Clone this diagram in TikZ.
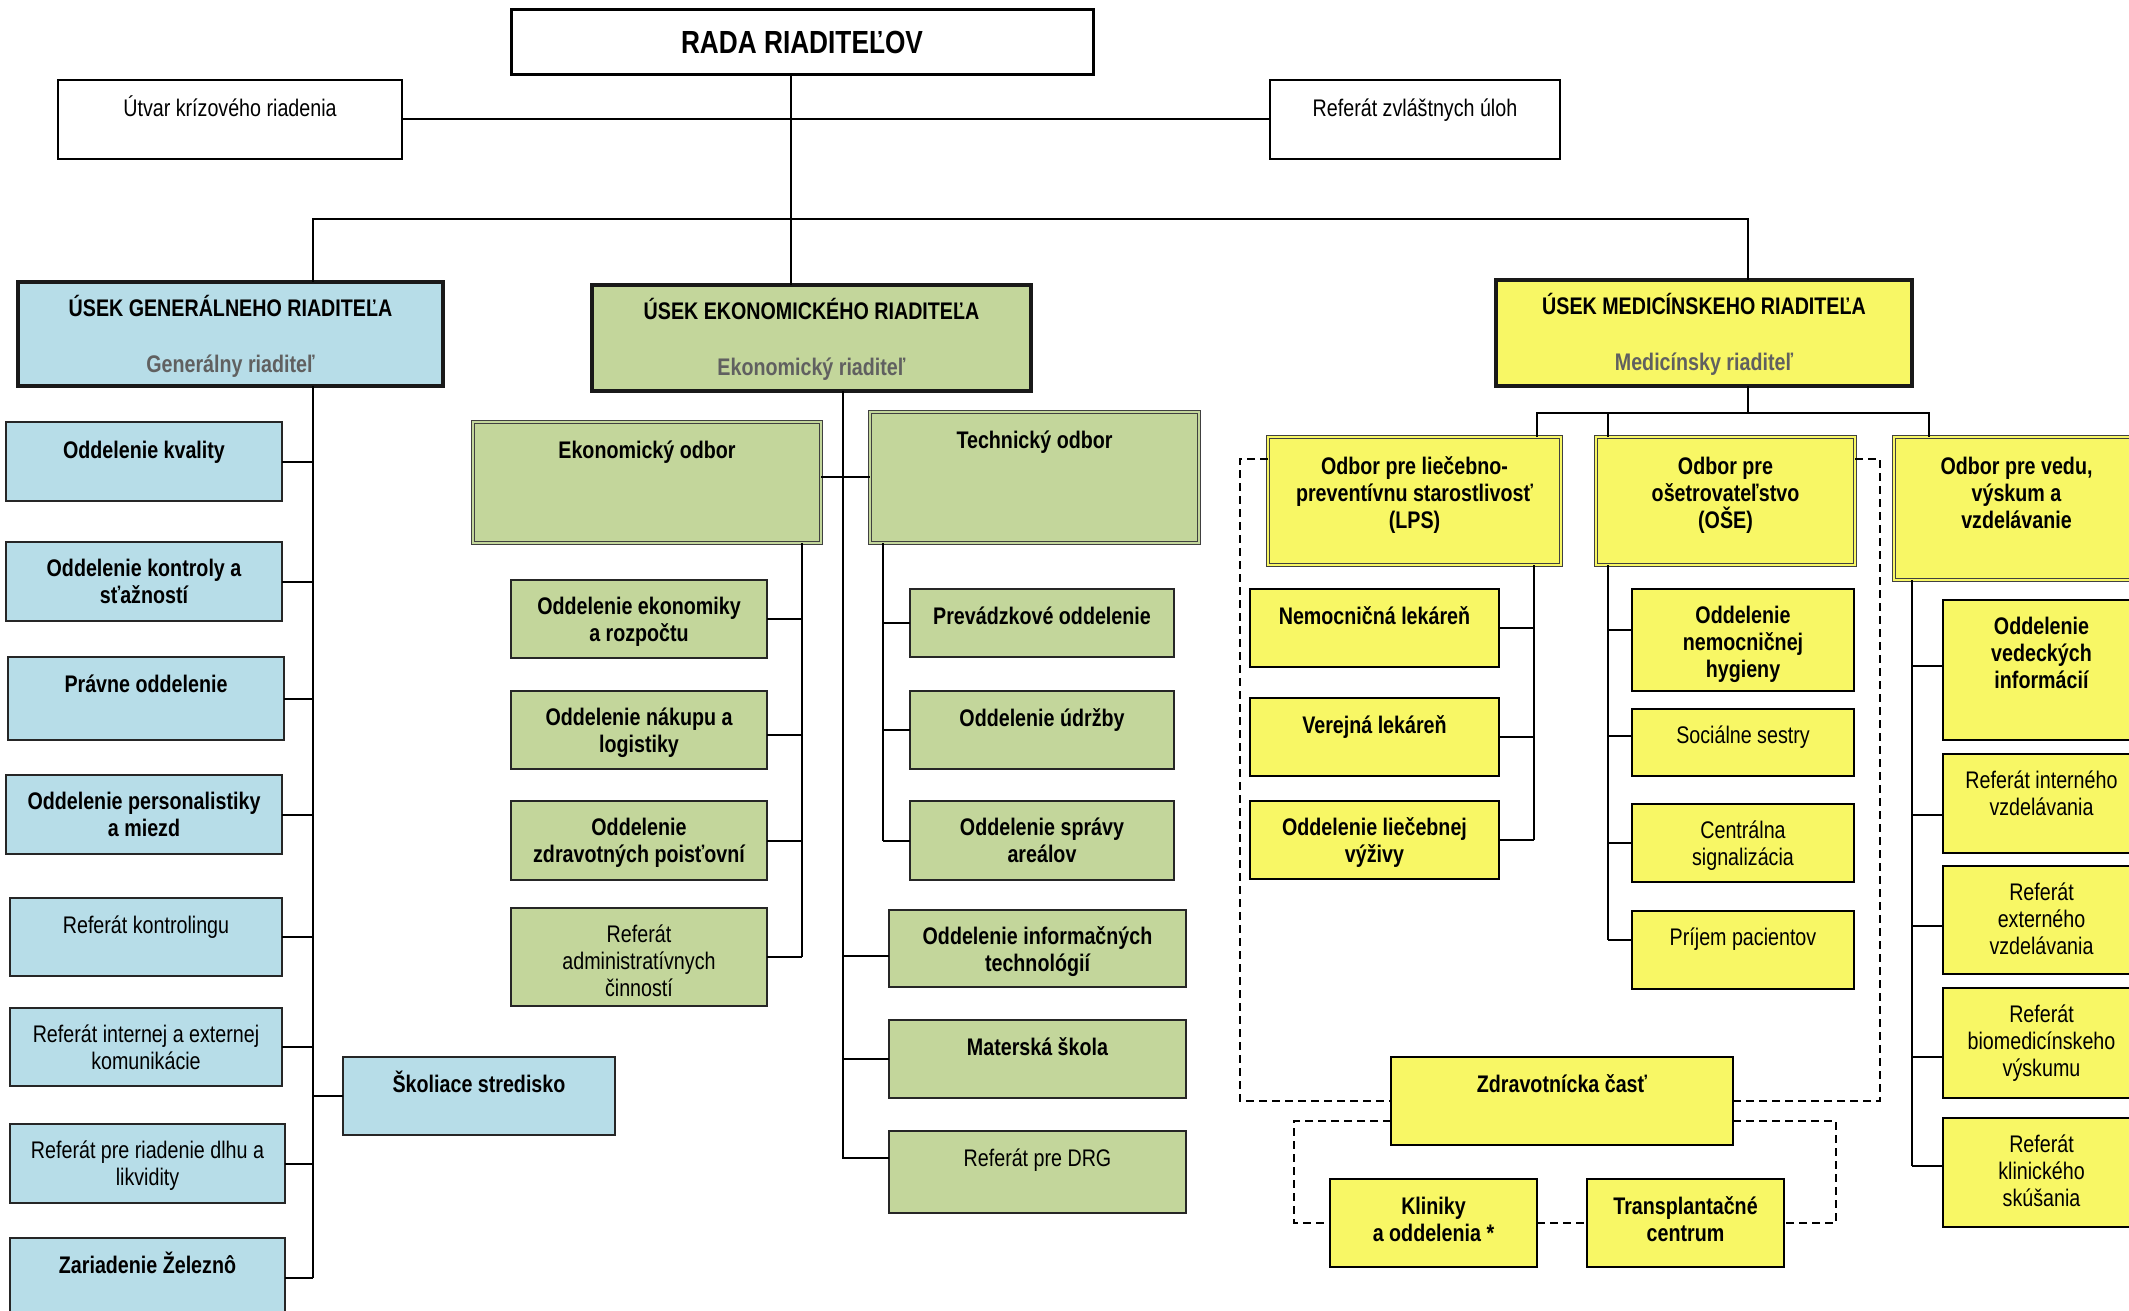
\documentclass[tikz,border=0pt]{standalone}
\usepackage{fontspec}
\setmainfont{Liberation Sans}[FakeStretch=0.82]
\definecolor{gblue}{HTML}{B7DDE8}
\definecolor{ggreen}{HTML}{C3D69B}
\definecolor{gyellow}{HTML}{F8F765}
\definecolor{subgray}{HTML}{606060}
\tikzset{
  conn/.style={draw=black, line width=2pt},
  dsh/.style={draw=black, line width=2pt, dash pattern=on 8pt off 5pt},
  nt/.style={font=\fontsize{24}{27}\selectfont},
  bt/.style={font=\fontsize{24}{27}\selectfont\bfseries},
  wbox/.style={draw=black, line width=2.6pt, fill=white},
  bbox/.style={draw=black!85, line width=2.2pt, fill=gblue},
  gbox/.style={draw=black!85, line width=2.2pt, fill=ggreen},
  ybox/.style={draw=black, line width=2.4pt, fill=gyellow},
  hdrb/.style={draw=black!90, line width=3.2pt, fill=gblue},
  hdrg/.style={draw=black!90, line width=3.2pt, fill=ggreen},
  hdry/.style={draw=black!90, line width=3.2pt, fill=gyellow},
  dblg/.style={draw=black!75, line width=1.2pt, fill=ggreen, double=ggreen, double distance=2.4pt},
  dbly/.style={draw=black!75, line width=1.2pt, fill=gyellow, double=gyellow, double distance=2.4pt}
}
\newcommand\bx[8]{\node[#1,anchor=north west,inner sep=0pt,outer sep=0pt] (#2) at (#3,#4) {\parbox[c][#6pt][t]{#5pt}{\centering\rule{0pt}{\dimexpr #8pt+2.5pt\relax}#7\par}};}
\begin{document}
\begin{tikzpicture}[x=1pt,y=-1pt]
\useasboundingbox (0,0) rectangle (2129,1311);
\clip (0,0) rectangle (2129,1311);

% helper coordinates
\coordinate (topL) at (313,219);
\coordinate (topR) at (1748,219);
\coordinate (rvx) at (791,0);
\coordinate (gsx) at (313,0);
\coordinate (esx) at (843,0);
\coordinate (eox) at (802,0);
\coordinate (tox) at (883,0);
\coordinate (ecy) at (0,477);
\coordinate (mh) at (1748,413);
\coordinate (lx) at (1537,0);
\coordinate (ox) at (1608,0);
\coordinate (vx) at (1929,0);
\coordinate (lsx) at (1534,0);
\coordinate (osx) at (1608,0);
\coordinate (vsx) at (1912,0);
\coordinate (dlx) at (1240,0);
\coordinate (drx) at (1880,0);
\coordinate (d2l) at (1294,0);
\coordinate (d2r) at (1836,0);

% top level
\node[wbox, line width=3pt, font=\fontsize{32}{36}\selectfont\bfseries, minimum width=582pt, minimum height=65pt, inner sep=0pt] (rada) at (802,42) {RADA RIADITEĽOV};
\bx{wbox,nt}{utvar}{58}{80}{344}{79}{Útvar krízového riadenia}{34}
\bx{wbox,nt}{zvl}{1270}{80}{290}{79}{Referát zvláštnych úloh}{34}

% division headers
\bx{hdrb,bt}{ugr}{18}{282}{425}{104}{ÚSEK GENERÁLNEHO RIADITEĽA\\[29pt]{\color{subgray}Generálny riaditeľ}}{31.5}
\bx{hdrg,bt}{uer}{592}{285}{439}{106}{ÚSEK EKONOMICKÉHO RIADITEĽA\\[29pt]{\color{subgray}Ekonomický riaditeľ}}{31.5}
\bx{hdry,bt}{umr}{1496}{280}{416}{106}{ÚSEK MEDICÍNSKEHO RIADITEĽA\\[29pt]{\color{subgray}Medicínsky riaditeľ}}{31.5}

% general director column
\bx{bbox,bt}{kval}{6}{422}{276}{79}{Oddelenie kvality}{34}
\bx{bbox,bt}{kont}{6}{542}{276}{79}{Oddelenie kontroly a\\sťažností}{32}
\bx{bbox,bt}{prav}{8}{657}{276}{83}{Právne oddelenie}{33}
\bx{bbox,bt}{pers}{6}{775}{276}{79}{Oddelenie personalistiky\\a miezd}{32}
\bx{bbox,nt}{rkon}{10}{898}{272}{78}{Referát kontrolingu}{33}
\bx{bbox,nt}{rkom}{10}{1008}{272}{78}{Referát internej a externej\\komunikácie}{32}
\bx{bbox,nt}{rdlh}{10}{1124}{275}{79}{Referát pre riadenie dlhu a\\likvidity}{32}
\bx{bbox,bt}{zel}{10}{1238}{275}{80}{Zariadenie Železnô}{33}
\bx{bbox,bt}{skol}{343}{1057}{272}{78}{Školiace stredisko}{33}

% economic column
\bx{dblg,bt}{eodb}{473}{422}{348}{121}{Ekonomický odbor}{34}
\bx{dblg,bt}{todb}{870}{412}{329}{131}{Technický odbor}{34}
\bx{gbox,bt}{eko1}{511}{580}{256}{78}{Oddelenie ekonomiky\\a rozpočtu}{32}
\bx{gbox,bt}{eko2}{511}{691}{256}{78}{Oddelenie nákupu a\\logistiky}{32}
\bx{gbox,bt}{eko3}{511}{801}{256}{79}{Oddelenie\\zdravotných poisťovní}{32}
\bx{gbox,nt}{eko4}{511}{908}{256}{98}{Referát\\administratívnych\\činností}{32}
\bx{gbox,bt}{tech1}{910}{589}{264}{68}{Prevádzkové oddelenie}{33}
\bx{gbox,bt}{tech2}{910}{691}{264}{78}{Oddelenie údržby}{33}
\bx{gbox,bt}{tech3}{910}{801}{264}{79}{Oddelenie správy\\areálov}{32}
\bx{gbox,bt}{it}{889}{910}{297}{77}{Oddelenie informačných\\technológií}{32}
\bx{gbox,bt}{ms}{889}{1020}{297}{78}{Materská škola}{33}
\bx{gbox,nt}{drg}{889}{1131}{297}{82}{Referát pre DRG}{33}

% medical column
\bx{dbly,bt}{lps}{1268}{437}{293}{128}{Odbor pre liečebno-\\preventívnu starostlivosť\\(LPS)}{35}
\bx{dbly,bt}{ose}{1596}{437}{259}{128}{Odbor pre\\ošetrovateľstvo\\(OŠE)}{35}
\bx{dbly,bt}{veda}{1894}{437}{245}{143}{Odbor pre vedu,\\výskum a\\vzdelávanie}{35}
\bx{ybox,bt}{nem}{1250}{589}{249}{78}{Nemocničná lekáreň}{33}
\bx{ybox,bt}{ver}{1250}{698}{249}{78}{Verejná lekáreň}{33}
\bx{ybox,bt}{vyz}{1250}{801}{249}{78}{Oddelenie liečebnej\\výživy}{32}
\bx{ybox,bt}{hyg}{1632}{589}{222}{102}{Oddelenie\\nemocničnej\\hygieny}{32}
\bx{ybox,nt}{soc}{1632}{709}{222}{67}{Sociálne sestry}{32}
\bx{ybox,nt}{cen}{1632}{804}{222}{78}{Centrálna\\signalizácia}{32}
\bx{ybox,nt}{pri}{1632}{911}{222}{78}{Príjem pacientov}{32}
\bx{ybox,bt}{vi}{1943}{600}{197}{140}{Oddelenie\\vedeckých\\informácií}{32}
\bx{ybox,nt}{rint}{1943}{754}{197}{99}{Referát interného\\vzdelávania}{32}
\bx{ybox,nt}{rext}{1943}{866}{197}{108}{Referát\\externého\\vzdelávania}{32}
\bx{ybox,nt}{rbio}{1943}{988}{197}{110}{Referát\\biomedicínskeho\\výskumu}{32}
\bx{ybox,nt}{rkli}{1943}{1118}{197}{109}{Referát\\klinického\\skúšania}{32}
\bx{ybox,bt}{zdr}{1391}{1057}{342}{88}{Zdravotnícka časť}{33}
\bx{ybox,bt}{kli}{1330}{1179}{207}{88}{Kliniky\\a oddelenia *}{33}
\bx{ybox,bt}{tra}{1587}{1179}{197}{88}{Transplantačné\\centrum}{33}

% top connectors
\draw[conn] (rada.south -| rvx) -- (uer.north -| rvx);
\draw[conn] (utvar.east) -- (zvl.west);
\draw[conn] (ugr.north -| topL) -- (topL) -- (topR) -- (umr.north -| topR);

% general director connectors
\draw[conn] (ugr.south -| gsx) -- (zel.east -| gsx);
\foreach \n in {kval,kont,prav,pers,rkon,rkom,rdlh,zel}
  \draw[conn] (\n.east) -- (\n.east -| gsx);
\draw[conn] (skol.west) -- (skol.west -| gsx);

% economic connectors
\draw[conn] (uer.south -| esx) -- ([yshift=14pt]drg.west -| esx) -- ([yshift=14pt]drg.west);
\draw[conn] (eodb.east |- ecy) -- (todb.west |- ecy);
\draw[conn] ([yshift=-7pt]it.west) -- ([yshift=-7pt]it.west -| esx);
\draw[conn] (ms.west) -- (ms.west -| esx);
\draw[conn] (eodb.south -| eox) -- (eko4.east -| eox);
\draw[conn] (eko1.east) -- (eko1.east -| eox);
\draw[conn] ([yshift=-5pt]eko2.east) -- ([yshift=-5pt]eko2.east -| eox);
\draw[conn] (eko3.east) -- (eko3.east -| eox);
\draw[conn] (eko4.east) -- (eko4.east -| eox);
\draw[conn] (todb.south -| tox) -- (tech3.west -| tox);
\foreach \n in {tech1,tech2,tech3}
  \draw[conn] (\n.west) -- (\n.west -| tox);

% medical connectors
\draw[conn] (umr.south -| topR) -- (mh);
\draw[conn] (lps.north -| lx) -- (lx |- mh) -- (vx |- mh) -- (veda.north -| vx);
\draw[conn] (ose.north -| ox) -- (ox |- mh);
\draw[conn] (lps.south -| lsx) -- (vyz.east -| lsx);
\foreach \n in {nem,ver,vyz}
  \draw[conn] (\n.east) -- (\n.east -| lsx);
\draw[conn] (ose.south -| osx) -- ([yshift=10pt]pri.west -| osx);
\draw[conn] ([yshift=10pt]hyg.west) -- ([yshift=10pt]hyg.west -| osx);
\draw[conn] ([yshift=7pt]soc.west) -- ([yshift=7pt]soc.west -| osx);
\draw[conn] (cen.west) -- (cen.west -| osx);
\draw[conn] ([yshift=10pt]pri.west) -- ([yshift=10pt]pri.west -| osx);
\draw[conn] (veda.south -| vsx) -- ([yshift=7pt]rkli.west -| vsx);
\draw[conn] ([yshift=4pt]vi.west) -- ([yshift=4pt]vi.west -| vsx);
\draw[conn] ([yshift=-11pt]rint.west) -- ([yshift=-11pt]rint.west -| vsx);
\draw[conn] ([yshift=-6pt]rext.west) -- ([yshift=-6pt]rext.west -| vsx);
\draw[conn] ([yshift=-14pt]rbio.west) -- ([yshift=-14pt]rbio.west -| vsx);
\draw[conn] ([yshift=7pt]rkli.west) -- ([yshift=7pt]rkli.west -| vsx);

% dashed relations
\draw[dsh] ([yshift=42pt]lps.west) -| (dlx |- zdr.west) -- (zdr.west);
\draw[dsh] ([yshift=42pt]ose.east) -| (drx |- zdr.east) -- (zdr.east);
\draw[dsh] ([yshift=-20pt]zdr.west) -| (d2l |- kli.west) -- (kli.west);
\draw[dsh] ([yshift=-20pt]zdr.east) -| (d2r |- tra.east) -- (tra.east);
\draw[dsh] (kli.east) -- (tra.west);
\end{tikzpicture}
\end{document}
